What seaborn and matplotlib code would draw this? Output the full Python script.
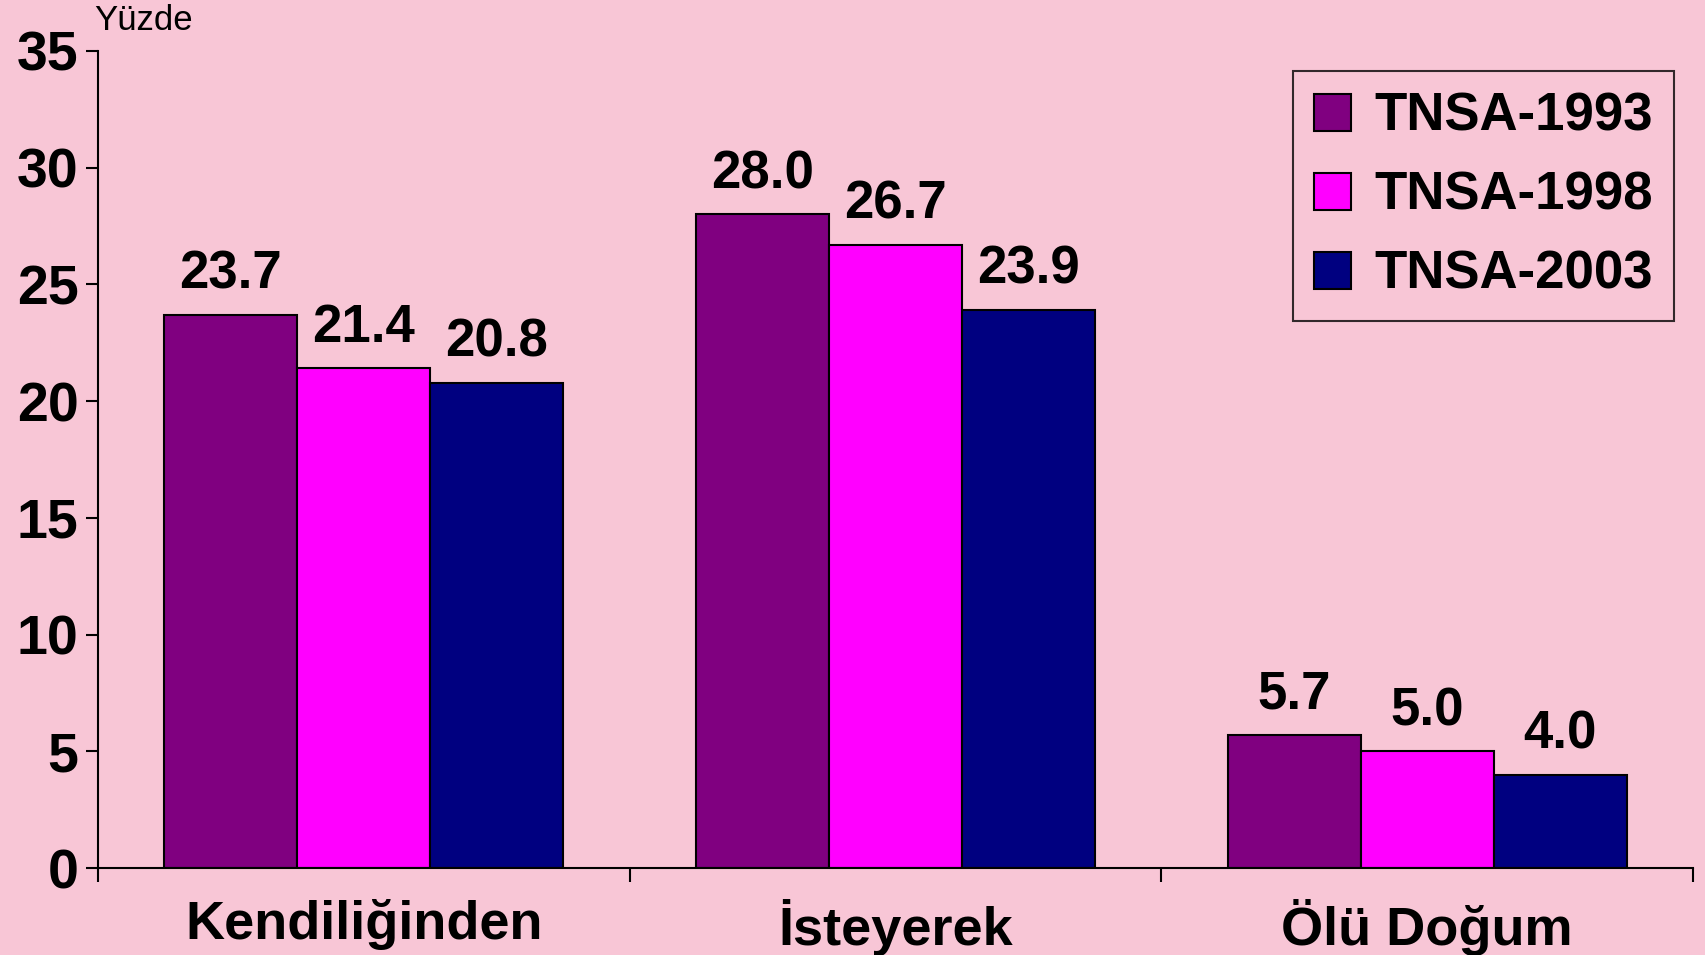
import numpy as np
import pandas as pd
import matplotlib
matplotlib.use("Agg")
import matplotlib.pyplot as plt
import seaborn as sns

# data
categories = ["Kendiliğinden", "İsteyerek", "Ölü Doğum"]
series = ["TNSA-1993", "TNSA-1998", "TNSA-2003"]
tnsa_1993 = [23.7, 28.0, 5.7]
tnsa_1998 = [21.4, 26.7, 5.0]
tnsa_2003 = [20.8, 23.9, 4.0]
y_ticks = [0, 5, 10, 15, 20, 25, 30, 35]
y_label = "Yüzde"

colors = ["#800080", "#FF00FF", "#000080"]
bg = "#F8C6D6"

df = pd.DataFrame({
    "Kategori": categories * 3,
    "Seri": [s for s in series for _ in categories],
    "Yuzde": tnsa_1993 + tnsa_1998 + tnsa_2003,
})

sns.set_style("ticks")
plt.rcParams["font.family"] = ["Liberation Sans", "DejaVu Sans"]
plt.rcParams["text.color"] = "black"
plt.rcParams["xtick.color"] = "black"
plt.rcParams["ytick.color"] = "black"
plt.rcParams["axes.labelcolor"] = "black"

fig = plt.figure(figsize=(17.05, 9.55), dpi=100, facecolor=bg)
ax = fig.add_axes([0.0575, 0.091, 0.993 - 0.0575, 0.9466 - 0.091])
ax.set_facecolor(bg)

sns.barplot(data=df, x="Kategori", y="Yuzde", hue="Seri", order=categories,
            hue_order=series, palette=colors, width=0.75, saturation=1,
            edgecolor="black", linewidth=1.5, ax=ax, legend=True)

for cont in ax.containers:
    ax.bar_label(cont, fmt="%.1f", padding=11, fontsize=38, fontweight="bold",
                 color="black")

ax.set_ylim(0, 35)
ax.set_xlim(-0.5, 2.5)
ax.set_yticks(y_ticks)
ax.tick_params(axis="y", labelsize=40, width=1.5, length=9, pad=5)
for lbl in ax.get_yticklabels():
    lbl.set_fontweight("bold")

# category labels centred, ticks at the boundaries
ax.set_xticks(range(len(categories)))
ax.set_xticklabels(categories, fontsize=39, fontweight="bold")
ax.tick_params(axis="x", length=0, pad=22)
ax.set_xticks([-0.5, 0.5, 1.5, 2.5], minor=True)
ax.tick_params(axis="x", which="minor", length=10, width=1.5)

for side in ["top", "right"]:
    ax.spines[side].set_visible(False)
for side in ["left", "bottom"]:
    ax.spines[side].set_linewidth(1.5)
    ax.spines[side].set_color("black")

ax.set_xlabel("")
ax.set_ylabel("")
fig.text(0.055, 0.979, y_label, fontsize=25, va="center", ha="left")

leg = ax.legend(loc="upper right", bbox_to_anchor=(0.982, 0.926),
                bbox_transform=fig.transFigure, frameon=True, fancybox=False,
                prop={"size": 38, "weight": "bold"}, handlelength=0.7,
                handleheight=0.7, handletextpad=0.45, labelspacing=0.55,
                borderpad=0.4, borderaxespad=0)
leg.get_frame().set_facecolor("none")
leg.get_frame().set_edgecolor("black")
leg.get_frame().set_linewidth(1.5)

fig.savefig("out.png", dpi=100, facecolor=bg)
